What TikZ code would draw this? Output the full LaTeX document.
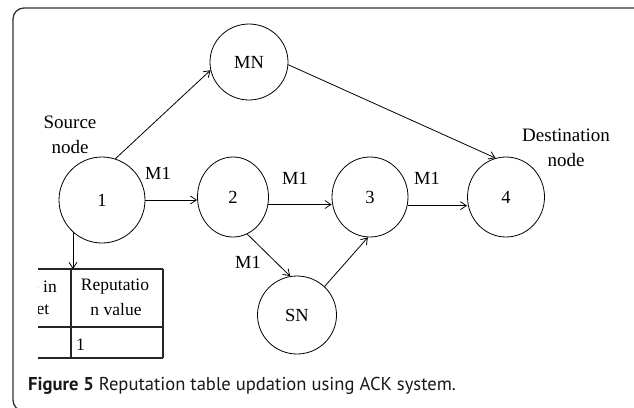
\documentclass[tikz,border=0pt]{standalone}
\usepackage{fontspec}
\setmainfont{Liberation Serif}
\newfontfamily\capfont{PT Sans}
\usetikzlibrary{arrows.meta,shapes.geometric}

\tikzset{
  netnode/.style={draw, ellipse, line width=0.8pt, inner sep=0pt,
    font=\fontsize{18.5}{22}\selectfont},
  link/.style={line width=0.8pt, -{Straight Barb[length=6pt,width=8pt,line width=0.8pt]}},
  lbl/.style={font=\fontsize{18.5}{22}\selectfont, inner sep=0pt},
  note/.style={font=\fontsize{19}{24.5}\selectfont, inner sep=0pt, align=center},
  cell/.style={font=\fontsize{17.5}{22}\selectfont, inner sep=0pt},
  grid/.style={line width=1.1pt, draw=black!85},
}

\begin{document}
\begin{tikzpicture}[x=1pt, y=-1pt]
  \useasboundingbox (0,0) rectangle (634,407);
  \clip (0,0) rectangle (634,407);
  \fill[white] (0,0) rectangle (634,407);

  % outer frame
  \draw[line width=1.3pt, draw=black!80, rounded corners=11pt] (13,8) rectangle (645,411);

  % network nodes
  \node[netnode, minimum width=86pt, minimum height=86pt] (n1) at (102,200) {1};
  \node[netnode, minimum width=71pt, minimum height=80pt] (n2) at (233,197) {2};
  \node[netnode, minimum width=76pt, minimum height=80pt] (n3) at (370,197) {3};
  \node[netnode, minimum width=77pt, minimum height=80pt] (n4) at (506,197) {4};
  \node[netnode, minimum width=78pt, minimum height=76pt] (mn) at (249,62) {MN};
  \node[netnode, minimum width=79pt, minimum height=78pt] (sn) at (297,315) {SN};

  % labels
  \node[note] (src) at (70,135) {Source\\node};
  \node[note] (dst) at (566,148) {Destination\\node};
  \node[lbl] (m12) at (158,173) {M1};
  \node[lbl] (m23) at (295,178) {M1};
  \node[lbl] (m34) at (427,178) {M1};
  \node[lbl] (m2s) at (248,262) {M1};

  % connectors
  \draw[link] (n1.0) -- (n1.0 -| n2.west);
  \draw[link] (n2.-12) -- (n2.-12 -| n3.west);
  \draw[link] (n3.-13) -- (n3.-13 -| n4.west);
  \draw[link] (n1.72) -- (mn.192);
  \draw[link] (mn.356) -- (n4.105);
  \draw[link] (n2.291) -- (sn.100);
  \draw[link] (sn.46) -- (n3.267);

  % reputation table
  \coordinate (tabtop) at (73,269);
  \draw[link] (n1.228) -- (n1.228 |- tabtop);
  \begin{scope}
    \clip (38,250) rectangle (170,366);
    \draw[grid] (20,269) -- (163,269);
    \draw[grid] (20,327) -- (163,327);
    \draw[grid] (20,358) -- (163,358);
    \draw[grid] (71,269) -- (71,358);
    \draw[grid] (163,269) -- (163,358);
    \node[cell, anchor=east] (c1a) at (57,287) {Value in};
    \node[cell, anchor=east] (c1b) at (49.5,310) {packet};
  \end{scope}
  \node[cell] (c2a) at (115,287) {Reputatio};
  \node[cell] (c2b) at (116,310) {n value};
  \node[cell, anchor=west] (c2c) at (76,345) {1};

  % caption
  \node[anchor=west, inner sep=0pt, text=black!90,
        font=\capfont\fontsize{18.6}{21}\selectfont] (cap) at (28,386)
    {\textbf{Figure 5} Reputation table updation using ACK system.};
\end{tikzpicture}
\end{document}
